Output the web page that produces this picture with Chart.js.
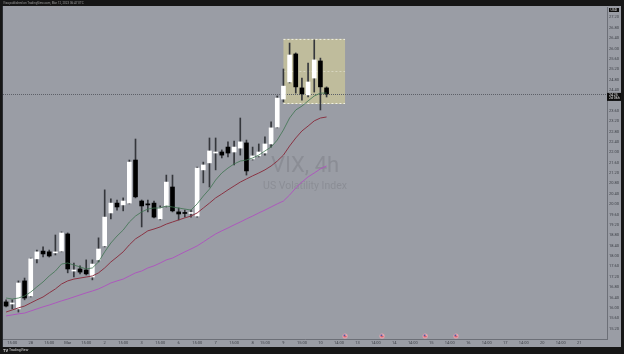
<!DOCTYPE html>
<html>
<head>
<meta charset="utf-8">
<script src="https://cdn.jsdelivr.net/npm/chart.js@4.4.0/dist/chart.umd.min.js"></script>
<style>
  html, body { margin: 0; padding: 0; background: #161616; }
  #wrap { width: 624px; height: 354px; }
</style>
</head>
<body>
<div id="wrap"><canvas id="vixChart" width="624" height="354"></canvas></div>
<script>
// VIX 4h candles (Feb 27 - Mar 10)
const opens  = [16.23,16.15,15.96,17.04,16.46,17.89,18.19,18.16,18.12,18.19,18.85,17.42,17.50,17.46,17.19,17.85,18.39,19.66,20.04,19.97,20.04,21.70,20.12,20.01,20.04,19.43,19.93,20.66,19.70,19.66,19.64,19.54,21.32,21.59,21.97,22.01,22.20,22.01,22.16,22.36,21.74,21.86,21.97,22.32,22.97,24.05,24.71,25.79,24.48,24.21,24.86,25.52,24.48];
const highs  = [16.31,16.31,17.04,17.15,17.92,18.23,18.35,18.23,18.81,18.93,18.89,17.73,17.62,17.85,17.85,18.70,20.55,20.20,20.16,20.24,21.70,22.51,20.16,20.16,20.12,19.93,21.12,21.12,19.85,19.77,19.77,21.43,21.62,22.55,22.55,22.09,22.40,22.43,23.32,22.47,22.20,22.32,22.59,23.17,24.17,25.21,26.21,25.83,24.86,25.44,26.33,25.63,24.52];
const lows   = [16.04,15.96,15.84,16.31,16.42,17.73,17.96,17.96,18.04,18.16,17.35,17.19,17.31,17.27,17.08,17.77,18.35,19.43,19.77,19.74,20.01,20.24,19.12,19.70,19.47,19.39,19.89,19.70,19.39,19.50,19.50,19.50,20.82,20.66,21.32,21.78,21.82,21.51,21.89,21.12,21.70,21.82,21.89,22.20,22.94,23.94,24.67,24.28,24.01,24.13,24.32,23.63,24.13];
const closes = [16.07,16.19,16.96,16.38,17.89,18.16,18.08,18.00,18.14,18.89,17.50,17.46,17.38,17.31,17.69,18.27,19.50,20.04,19.89,20.12,21.62,20.28,19.93,19.97,19.50,19.85,20.85,19.74,19.62,19.64,19.66,21.39,21.51,22.05,22.01,21.89,21.97,22.20,22.40,21.28,21.86,22.01,22.32,22.94,24.09,24.55,25.75,24.52,24.25,24.71,25.56,24.52,24.25];

// moving averages
const maFast = [16.38,16.34,16.38,16.46,16.61,16.81,17.00,17.23,17.42,17.69,17.73,17.65,17.58,17.50,17.54,17.77,18.16,18.50,18.77,19.00,19.31,19.54,19.70,19.81,19.85,19.85,19.93,19.89,19.85,19.81,19.77,20.01,20.31,20.58,20.93,21.20,21.39,21.55,21.66,21.70,21.78,21.89,22.05,22.20,22.47,22.86,23.32,23.63,23.78,23.98,24.17,24.28,24.28];
const maMid  = [15.84,15.92,16.00,16.07,16.19,16.31,16.42,16.58,16.73,16.92,17.04,17.11,17.15,17.19,17.23,17.35,17.54,17.77,17.96,18.16,18.43,18.66,18.81,18.97,19.04,19.12,19.23,19.31,19.39,19.47,19.54,19.66,19.85,20.04,20.24,20.39,20.55,20.70,20.85,20.97,21.09,21.20,21.32,21.47,21.66,21.89,22.24,22.55,22.82,23.01,23.21,23.32,23.36];
const maSlow = [15.69,15.73,15.77,15.80,15.88,15.96,16.04,16.11,16.19,16.27,16.34,16.42,16.50,16.58,16.65,16.73,16.84,16.96,17.04,17.11,17.23,17.35,17.42,17.54,17.62,17.73,17.85,17.92,18.04,18.16,18.27,18.39,18.54,18.70,18.85,18.97,19.08,19.20,19.31,19.43,19.54,19.66,19.77,19.89,20.01,20.12,20.35,20.62,20.85,21.05,21.20,21.36,21.47];

// time axis labels, one every third bar slot
const tickLabels = ['15:00','28','15:00','Mar','15:00','2','15:00','3','15:00','6','15:00','7','15:00','8','15:00','9','15:00','10','14:00','13','14:00','14','14:00','15','14:00','16','14:00','17','14:00','20','14:00','21'];
const slotCount = 98;

// highlighted zone (bar slots / price) and calendar events
const zone = { from: 45, to: 55, top: 26.37, bottom: 23.86 };
const eventSlots = [55, 61, 68, 73];

const categories = new Array(slotCount).fill('');
tickLabels.forEach((t, k) => { categories[k < 14 ? 3 * k + 1 : 3 * k] = t; });

const lastPrice = closes[closes.length - 1];
const GREY = '#9a9da5';

const tvFrame = {
    id: 'tvFrame',
    beforeDraw(chart) {
        const { ctx, chartArea: a } = chart;
        ctx.save();
        ctx.fillStyle = '#161616';
        ctx.fillRect(0, 0, chart.width, chart.height);
        ctx.fillStyle = GREY;
        ctx.fillRect(3, 6, 618, 341);
        ctx.fillStyle = '#2a2c31';
        ctx.fillRect(2, 6, 1, 341);

        // watermark
        const cx = (a.left + a.right) / 2;
        ctx.fillStyle = 'rgba(60,62,70,0.16)';
        ctx.textAlign = 'center';
        ctx.textBaseline = 'alphabetic';
        ctx.font = '22px Roboto';
        ctx.fillText('VIX, 4h', cx, 172);
        ctx.font = '10.5px Roboto';
        ctx.fillText('US Volatility Index', cx, 189);
        ctx.restore();
    },
    beforeDatasetsDraw(chart) {
        const { ctx, chartArea: a, scales: { x, y } } = chart;
        ctx.save();
        // zone rectangle
        const zx0 = x.getPixelForValue(zone.from);
        const zx1 = x.getPixelForValue(zone.to);
        const zy0 = y.getPixelForValue(zone.top);
        const zy1 = y.getPixelForValue(zone.bottom);
        ctx.fillStyle = 'rgba(222,214,150,0.55)';
        ctx.fillRect(zx0, zy0, zx1 - zx0, zy1 - zy0);
        ctx.strokeStyle = 'rgba(245,245,235,0.9)';
        ctx.lineWidth = 1;
        ctx.setLineDash([2, 2]);
        ctx.beginPath();
        ctx.moveTo(zx0, zy0 + 0.5); ctx.lineTo(zx1, zy0 + 0.5);
        ctx.moveTo(zx0, zy1 - 0.5); ctx.lineTo(zx1, zy1 - 0.5);
        ctx.stroke();
        ctx.strokeStyle = 'rgba(245,245,235,0.45)';
        ctx.beginPath();
        const zm = Math.round((zy0 + zy1) / 2) + 0.5;
        ctx.moveTo(zx0, zm); ctx.lineTo(zx1, zm);
        ctx.stroke();

        // last price line
        const py = Math.round(y.getPixelForValue(lastPrice)) + 0.5;
        ctx.strokeStyle = '#5d6068';
        ctx.lineWidth = 1;
        ctx.setLineDash([1, 1]);
        ctx.beginPath();
        ctx.moveTo(a.left, py); ctx.lineTo(a.right, py);
        ctx.stroke();
        ctx.restore();
    },
    afterDraw(chart) {
        const { ctx, chartArea: a, scales: { x, y } } = chart;
        ctx.save();
        // price label
        const py = y.getPixelForValue(lastPrice);
        ctx.fillStyle = '#0d0d0d';
        ctx.fillRect(a.right, py - 1, 14, 8);
        ctx.fillStyle = '#e8e8e8';
        ctx.font = '3.5px Roboto';
        ctx.textAlign = 'left';
        ctx.textBaseline = 'middle';
        ctx.fillText(lastPrice.toFixed(2), a.right + 2, py + 1);
        ctx.fillText('2d 06h', a.right + 2, py + 4.5);
        // currency box
        ctx.fillStyle = '#0d0d0d';
        ctx.fillRect(a.right + 2, 8, 10, 4);
        ctx.fillStyle = '#e8e8e8';
        ctx.fillText('USD', a.right + 3.5, 10);

        // calendar events
        eventSlots.forEach(s => {
            const ex = x.getPixelForValue(s);
            ctx.beginPath();
            ctx.arc(ex, a.bottom - 3, 2.6, 0, Math.PI * 2);
            ctx.fillStyle = '#e9a4ad';
            ctx.fill();
            ctx.fillStyle = '#4a5aa8';
            ctx.fillRect(ex - 1.5, a.bottom - 4.5, 1.8, 1.6);
            ctx.fillStyle = '#c2384a';
            ctx.fillRect(ex - 1.5, a.bottom - 2.6, 3, 0.8);
        });

        // header / footer
        ctx.fillStyle = '#9c9c9c';
        ctx.font = '3px Roboto';
        ctx.textBaseline = 'middle';
        ctx.fillText('Vixa published on TradingView.com, Mar 12, 2023 06:47 UTC', 3, 3);
        ctx.fillStyle = '#d8d8d8';
        ctx.font = 'bold 4px Roboto';
        ctx.fillText('TV', 3, 350.5);
        ctx.font = '3.5px Roboto';
        ctx.fillText('TradingView', 9, 350.5);
        ctx.restore();
    }
};

const config = {
    data: {
        labels: categories,
        datasets: [
            { type: 'line', label: 'MA fast', data: maFast, borderColor: '#3f7350', borderWidth: 0.8, pointRadius: 0, order: 0 },
            { type: 'line', label: 'MA mid', data: maMid, borderColor: '#8a3444', borderWidth: 1, pointRadius: 0, order: 0 },
            { type: 'line', label: 'MA slow', data: maSlow, borderColor: '#ad58bd', borderWidth: 1, pointRadius: 0, order: 0 },
            {
                type: 'bar', label: 'Body',
                data: opens.map((o, i) => [o, closes[i]]),
                backgroundColor: opens.map((o, i) => closes[i] >= o ? '#ffffff' : '#000000'),
                barThickness: 4, grouped: false, minBarLength: 1, order: 1
            },
            {
                type: 'bar', label: 'Wick',
                data: lows.map((l, i) => [l, highs[i]]),
                backgroundColor: '#35373c',
                barThickness: 1, grouped: false, order: 2
            }
        ]
    },
    options: {
        responsive: false,
        animation: false,
        layout: { padding: { left: 3, right: 3, top: 7, bottom: 7 } },
        plugins: { legend: { display: false }, tooltip: { enabled: false } },
        scales: {
            x: {
                type: 'category',
                offset: true,
                grid: { display: false, drawTicks: false },
                border: { color: '#6c6f77' },
                ticks: {
                    autoSkip: false, maxRotation: 0, minRotation: 0, padding: 2,
                    color: '#3e4148', font: { size: 4, family: 'Roboto' },
                    callback: (v, i) => categories[i]
                },
                afterFit: s => { s.height = 8; }
            },
            y: {
                position: 'right',
                min: 14.8, max: 27.6,
                grid: { display: false, drawTicks: false },
                border: { color: '#6c6f77' },
                ticks: {
                    stepSize: 0.4, padding: 2,
                    color: '#3e4148', font: { size: 4, family: 'Roboto' },
                    callback: (v, i, t) => (i === 0 || i === t.length - 1) ? '' : Number(v).toFixed(2)
                },
                afterFit: s => { s.width = 14; }
            }
        }
    },
    plugins: [tvFrame]
};

const vixChart = new Chart(document.getElementById('vixChart'), config);
</script>
</body>
</html>
